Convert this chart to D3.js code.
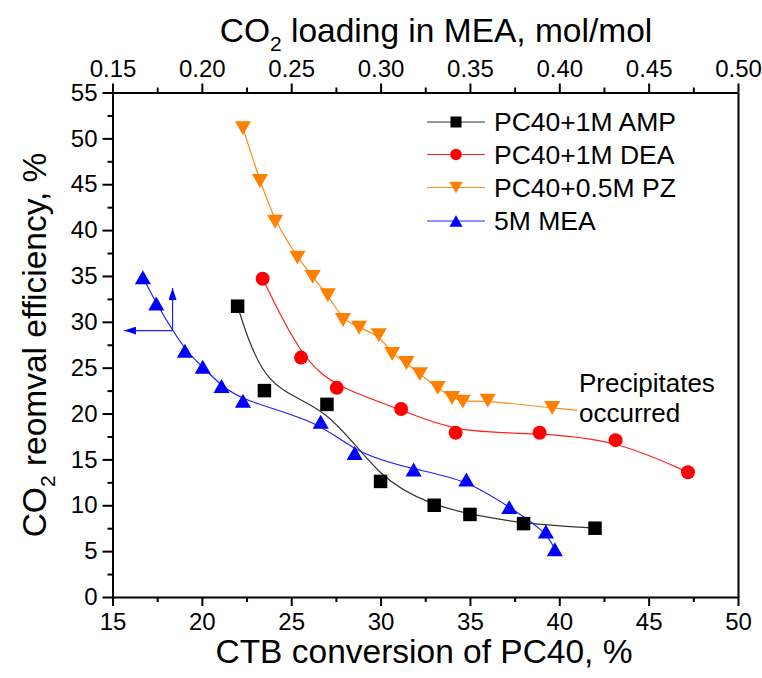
<!DOCTYPE html>
<html><head><meta charset="utf-8">
<script src="https://cdn.jsdelivr.net/npm/d3@7"></script>
<style>
body{margin:0;background:#fff}
svg{display:block}
text{font-family:"Liberation Sans",Arial,sans-serif;fill:#000}
</style>
</head><body>
<svg id="c" width="762" height="678"></svg>
<script>
// ---- data ----
const seriesNames = ["PC40+1M AMP","PC40+1M DEA","PC40+0.5M PZ","5M MEA"];
const ampX = [22, 23.5, 27, 30, 33, 35, 38, 42];
const ampY = [31.7, 22.5, 21, 12.6, 10, 9, 8, 7.5];
const deaX = [23.4, 25.55, 27.55, 31.15, 34.2, 38.9, 43.15, 47.2];
const deaY = [34.7, 26.1, 22.8, 20.5, 17.9, 17.9, 17.1, 13.6];
const pzX = [22.3, 23.25, 24.1, 25.35, 26.2, 27.05, 27.9, 28.8, 29.9, 30.65, 31.45, 32.2, 33.2, 34.0, 34.6, 36.0, 39.6, 42.5];
const pzY = [51.1, 45.35, 40.9, 37.0, 34.9, 32.9, 30.2, 29.35, 28.55, 26.5, 25.5, 24.3, 22.8, 21.7, 21.3, 21.4, 20.6, 20.1];
const meaX = [16.7, 17.45, 19.05, 20.05, 21.1, 22.3, 26.65, 28.55, 31.85, 34.8, 37.2, 39.25, 39.75];
const meaY = [34.85, 32.0, 26.85, 25.1, 23.0, 21.4, 19.1, 15.7, 13.9, 12.8, 9.8, 7.15, 5.2];
const xTicks = [15, 20, 25, 30, 35, 40, 45, 50];
const yTicks = [0, 5, 10, 15, 20, 25, 30, 35, 40, 45, 50, 55];
const topTicks = [0.15, 0.20, 0.25, 0.30, 0.35, 0.40, 0.45, 0.50];
const arrowBase = [18.36, 29.04];   // junction on MEA curve
const arrowUpTip = 33.7;            // y value
const arrowLeftTip = 15.65;         // x value
const noteLines = ["Precipitates", "occurred"];

// ---- layout ----
const L = 112.5, R = 738, T = 92.5, B = 597;
const x = d3.scaleLinear().domain([15, 50]).range([L, R]);
const xt = d3.scaleLinear().domain([0.15, 0.50]).range([L, R]);
const y = d3.scaleLinear().domain([0, 55]).range([B, T]);

const svg = d3.select("#c");
const FONT = '"Liberation Sans",Arial,sans-serif';

const series = [
  {name: seriesNames[0], xs: ampX, ys: ampY, color: "#000000", line: "#333333", shape: "square"},
  {name: seriesNames[1], xs: deaX, ys: deaY, color: "#ff0000", line: "#ff2020", shape: "circle"},
  {name: seriesNames[2], xs: pzX, ys: pzY, color: "#ff8000", line: "#ff8a1a", shape: "down"},
  {name: seriesNames[3], xs: meaX, ys: meaY, color: "#0000ff", line: "#2020ff", shape: "up"}
];

function markerPath(shape, s) {
  if (shape === "square") return d3.symbol(d3.symbolSquare, s * s)();
  if (shape === "circle") return d3.symbol(d3.symbolCircle, Math.PI * (s / 2) * (s / 2))();
  const w = s * 1.15, h = w * Math.sqrt(3) / 2;
  if (shape === "up") return `M0,${-h/2}L${w/2},${h/2}L${-w/2},${h/2}Z`;
  return `M0,${h/2}L${w/2},${-h/2}L${-w/2},${-h/2}Z`;
}

const line = d3.line().curve(d3.curveBasis).x(d => x(d[0])).y(d => y(d[1]));

const plot = svg.append("g");
series.forEach(s => {
  const pts = s.xs.map((v, i) => [v, s.ys[i]]);
  plot.append("path").attr("d", line(pts)).attr("fill", "none")
    .attr("stroke", s.line).attr("stroke-width", 1.2);
});
series.forEach(s => {
  const pts = s.xs.map((v, i) => [v, s.ys[i]]);
  plot.selectAll(null).data(pts).enter().append("path")
    .attr("d", markerPath(s.shape, s.shape === "square" ? 13.5 : 14))
    .attr("transform", d => `translate(${x(d[0])},${y(d[1])})`)
    .attr("fill", s.color);
});

// arrows
const defs = svg.append("defs");
defs.append("marker").attr("id", "ah").attr("viewBox", "0 0 12 8")
  .attr("refX", 12).attr("refY", 4).attr("markerWidth", 12).attr("markerHeight", 8)
  .attr("markerUnits", "userSpaceOnUse").attr("orient", "auto")
  .append("path").attr("d", "M0,0L12,4L0,8Z").attr("fill", "#0000ff");
plot.append("line").attr("x1", x(arrowBase[0])).attr("y1", y(arrowBase[1]))
  .attr("x2", x(arrowBase[0])).attr("y2", y(arrowUpTip))
  .attr("stroke", "#2020ff").attr("stroke-width", 1.2).attr("marker-end", "url(#ah)");
plot.append("line").attr("x1", x(arrowBase[0])).attr("y1", y(arrowBase[1]))
  .attr("x2", x(arrowLeftTip)).attr("y2", y(arrowBase[1]))
  .attr("stroke", "#2020ff").attr("stroke-width", 1.2).attr("marker-end", "url(#ah)");

// annotation with white background
const note = svg.append("g");
const noteText = note.append("text").attr("font-size", 26).attr("x", 579).attr("y", 392);
noteLines.forEach((t, i) => noteText.append("tspan").attr("x", 579).attr("dy", i === 0 ? 0 : 30).text(t));
const bb = noteText.node().getBBox();
note.insert("rect", "text").attr("x", bb.x - 2).attr("y", bb.y).attr("width", bb.width + 4)
  .attr("height", bb.height - 2).attr("fill", "#fff");

// ---- axes ----
function styleAxis(g) {
  g.selectAll("path.domain").attr("stroke", "#000").attr("stroke-width", 2);
  g.selectAll(".tick line").attr("stroke", "#000").attr("stroke-width", 2);
  g.selectAll(".tick text").attr("font-family", FONT).attr("font-size", 24).attr("fill", "#000");
}
const minor = (ticks, step) => ticks.slice(0, -1).map(v => v + step / 2);

// bottom
const gb = svg.append("g").attr("transform", `translate(0,${B})`);
gb.call(d3.axisBottom(x).tickValues(minor(xTicks, 5)).tickSize(5).tickFormat(""));
gb.select(".domain").remove();
const gb2 = svg.append("g").attr("transform", `translate(0,${B})`);
gb2.call(d3.axisBottom(x).tickValues(xTicks).tickSize(9).tickSizeOuter(0).tickPadding(7).tickFormat(d3.format("d")));
styleAxis(gb); styleAxis(gb2);

// left
const gl = svg.append("g").attr("transform", `translate(${L},0)`);
gl.call(d3.axisLeft(y).tickValues(minor(yTicks, 5)).tickSize(5).tickFormat(""));
gl.select(".domain").remove();
const gl2 = svg.append("g").attr("transform", `translate(${L},0)`);
gl2.call(d3.axisLeft(y).tickValues(yTicks).tickSize(10).tickSizeOuter(0).tickPadding(5).tickFormat(d3.format("d")));
styleAxis(gl); styleAxis(gl2);

// top
const gt = svg.append("g").attr("transform", `translate(0,${T})`);
gt.call(d3.axisTop(xt).tickValues(minor(topTicks, 0.05)).tickSize(5).tickFormat(""));
gt.select(".domain").remove();
const gt2 = svg.append("g").attr("transform", `translate(0,${T})`);
gt2.call(d3.axisTop(xt).tickValues(topTicks).tickSize(9).tickSizeOuter(0).tickPadding(7).tickFormat(d3.format(".2f")));
styleAxis(gt); styleAxis(gt2);

// right frame
const gr = svg.append("g").attr("transform", `translate(${R},0)`);
gr.call(d3.axisRight(y).tickValues([]).tickSizeOuter(0));
styleAxis(gr);

// ---- titles ----
const tTop = svg.append("text").attr("x", 436).attr("y", 42).attr("text-anchor", "middle").attr("font-size", 33.5);
tTop.append("tspan").text("CO");
tTop.append("tspan").attr("font-size", 21).attr("dy", 9).text("2");
tTop.append("tspan").attr("dy", -9).text(" loading in MEA, mol/mol");

svg.append("text").attr("x", 424).attr("y", 663).attr("text-anchor", "middle").attr("font-size", 33.5)
  .text("CTB conversion of PC40, %");

const tY = svg.append("text").attr("transform", "translate(46,345) rotate(-90)")
  .attr("text-anchor", "middle").attr("font-size", 33.5);
tY.append("tspan").text("CO");
tY.append("tspan").attr("font-size", 21).attr("dy", 9).text("2");
tY.append("tspan").attr("dy", -9).text(" reomval efficiency, %");

// ---- legend ----
const legRows = [122, 154.5, 187.5, 221];
const leg = svg.append("g");
series.forEach((s, i) => {
  const g = leg.append("g").attr("transform", `translate(0,${legRows[i]})`);
  g.append("line").attr("x1", 427).attr("x2", 485).attr("y1", 0).attr("y2", 0)
    .attr("stroke", s.line).attr("stroke-width", 1.2);
  g.append("path").attr("d", markerPath(s.shape, s.shape === "square" ? 11 : 11.5))
    .attr("transform", "translate(456,0)").attr("fill", s.color);
  g.append("text").attr("x", 494).attr("y", 0).attr("dy", "0.35em").attr("font-size", 26.5).text(s.name);
});
</script>
</body></html>
